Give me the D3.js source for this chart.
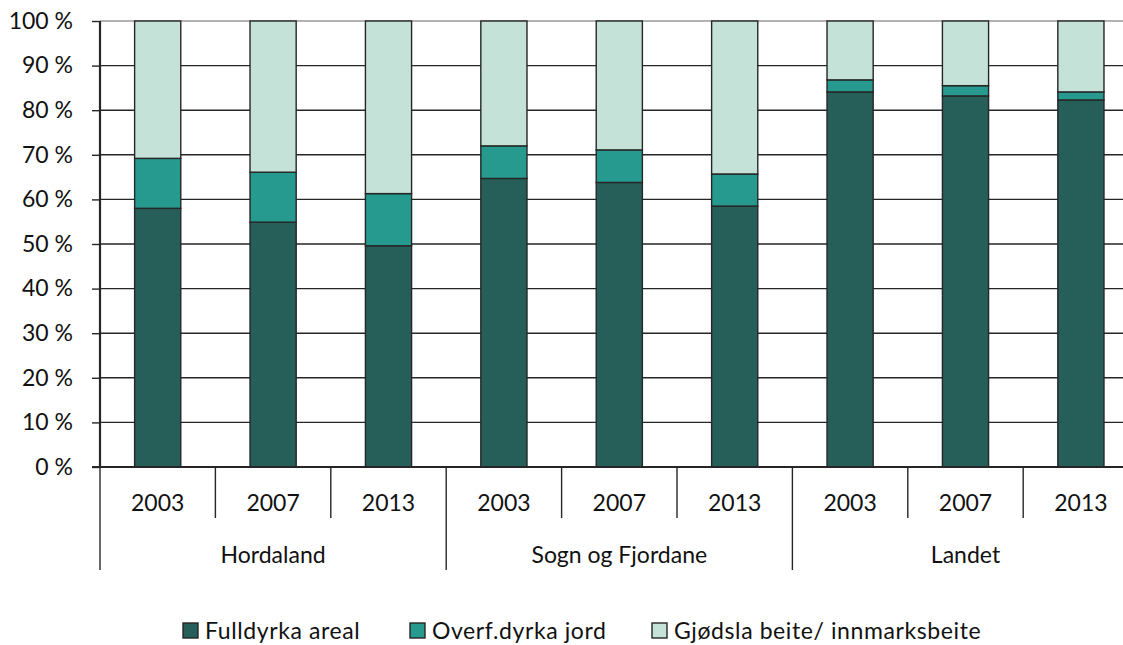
<!DOCTYPE html>
<html><head><meta charset="utf-8">
<script src="https://cdn.jsdelivr.net/npm/d3@7"></script>
<style>body{margin:0;background:#fff}svg{display:block}text{font-family:Lato,"Open Sans",sans-serif;fill:#111}</style>
</head><body>
<svg id="c" width="1123" height="645"></svg>
<script>
const groups = ["Hordaland","Sogn og Fjordane","Landet"];
const years = ["2003","2007","2013"];
const seriesNames = ["Fulldyrka areal","Overf.dyrka jord","Gjødsla beite/ innmarksbeite"];
const fulldyrka = [58.0,54.9,49.6, 64.7,63.8,58.5, 84.1,83.2,82.3];
const overf     = [11.2,11.2,11.7, 7.3,7.3,7.2, 2.7,2.3,1.8];
const yTicks = [0,10,20,30,40,50,60,70,80,90,100];
const colors = ["#265E59","#279A8F","#C5E2D8"];

const cats = [];
groups.forEach(g=>years.forEach(y=>cats.push(g+"|"+y)));
const data = cats.map((c,i)=>({cat:c, year:c.split("|")[1], group:c.split("|")[0],
  vals:[fulldyrka[i], overf[i], 100-fulldyrka[i]-overf[i]]}));

const svg = d3.select("#c");
const x0 = 100, step = 115.4, y0 = 467, y1 = 21;
const FS = "23px";
const x = d3.scaleBand().domain(cats).range([x0, x0+step*cats.length]).paddingInner(0.6).paddingOuter(0.3);
const y = d3.scaleLinear().domain([0,100]).range([y0,y1]);

// gridlines
svg.append("g").selectAll("line").data(yTicks.filter(t=>t>0)).join("line")
  .attr("x1",x0).attr("x2",1123).attr("y1",d=>y(d)).attr("y2",d=>y(d))
  .attr("stroke",d=>d===100?"#9a9a9a":"#262626").attr("stroke-width",1.4);

// y axis
const ya = svg.append("g").attr("transform",`translate(${x0},0)`)
  .call(d3.axisLeft(y).tickValues(yTicks).tickSize(8).tickPadding(19).tickFormat(d=>d+" %"));
ya.select(".domain").remove();
ya.selectAll("line").attr("stroke","#262626").attr("stroke-width",1.4);
ya.selectAll("text").style("font-size",FS).style("font-family","Lato, sans-serif").attr("fill","#111");

// bars
const stack = [];
data.forEach(d=>{let acc=0; d.vals.forEach((v,k)=>{stack.push({cat:d.cat,k,lo:acc,hi:acc+v}); acc+=v;});});
svg.append("g").selectAll("rect").data(stack).join("rect")
  .attr("x",d=>x(d.cat)).attr("width",x.bandwidth())
  .attr("y",d=>y(d.hi)).attr("height",d=>y(d.lo)-y(d.hi))
  .attr("fill",d=>colors[d.k]).attr("stroke","#262626").attr("stroke-width",1.4);

// axes lines
svg.append("line").attr("x1",x0).attr("x2",x0).attr("y1",y1).attr("y2",y0+1).attr("stroke","#262626").attr("stroke-width",2.2);
svg.append("line").attr("x1",x0-8).attr("x2",1123).attr("y1",y0).attr("y2",y0).attr("stroke","#262626").attr("stroke-width",2.2);

// category dividers
const divs = d3.range(cats.length+1);
svg.append("g").selectAll("line").data(divs).join("line")
  .attr("x1",i=>x0+i*step).attr("x2",i=>x0+i*step)
  .attr("y1",y0).attr("y2",i=>i%3===0?570:518)
  .attr("stroke","#262626").attr("stroke-width",1.4);

// year labels
svg.append("g").selectAll("text").data(data).join("text")
  .attr("x",d=>x(d.cat)+x.bandwidth()/2).attr("y",511)
  .attr("text-anchor","middle").style("font-size",FS).text(d=>d.year);
// group labels
svg.append("g").selectAll("text").data(groups).join("text")
  .attr("x",(g,i)=>x0+(i*3+1.5)*step).attr("y",563)
  .attr("text-anchor","middle").style("font-size",FS).text(g=>g);

// legend
const legX = [183,410,652];
const lg = svg.append("g").selectAll("g").data(seriesNames).join("g")
  .attr("transform",(d,i)=>`translate(${legX[i]},0)`);
lg.append("rect").attr("x",0).attr("y",623).attr("width",15).attr("height",15)
  .attr("fill",(d,i)=>colors[i]).attr("stroke","#262626").attr("stroke-width",1.4);
lg.append("text").attr("x",22).attr("y",639).style("font-size",FS).style("letter-spacing","0.6px").text(d=>d);
</script>
</body></html>
